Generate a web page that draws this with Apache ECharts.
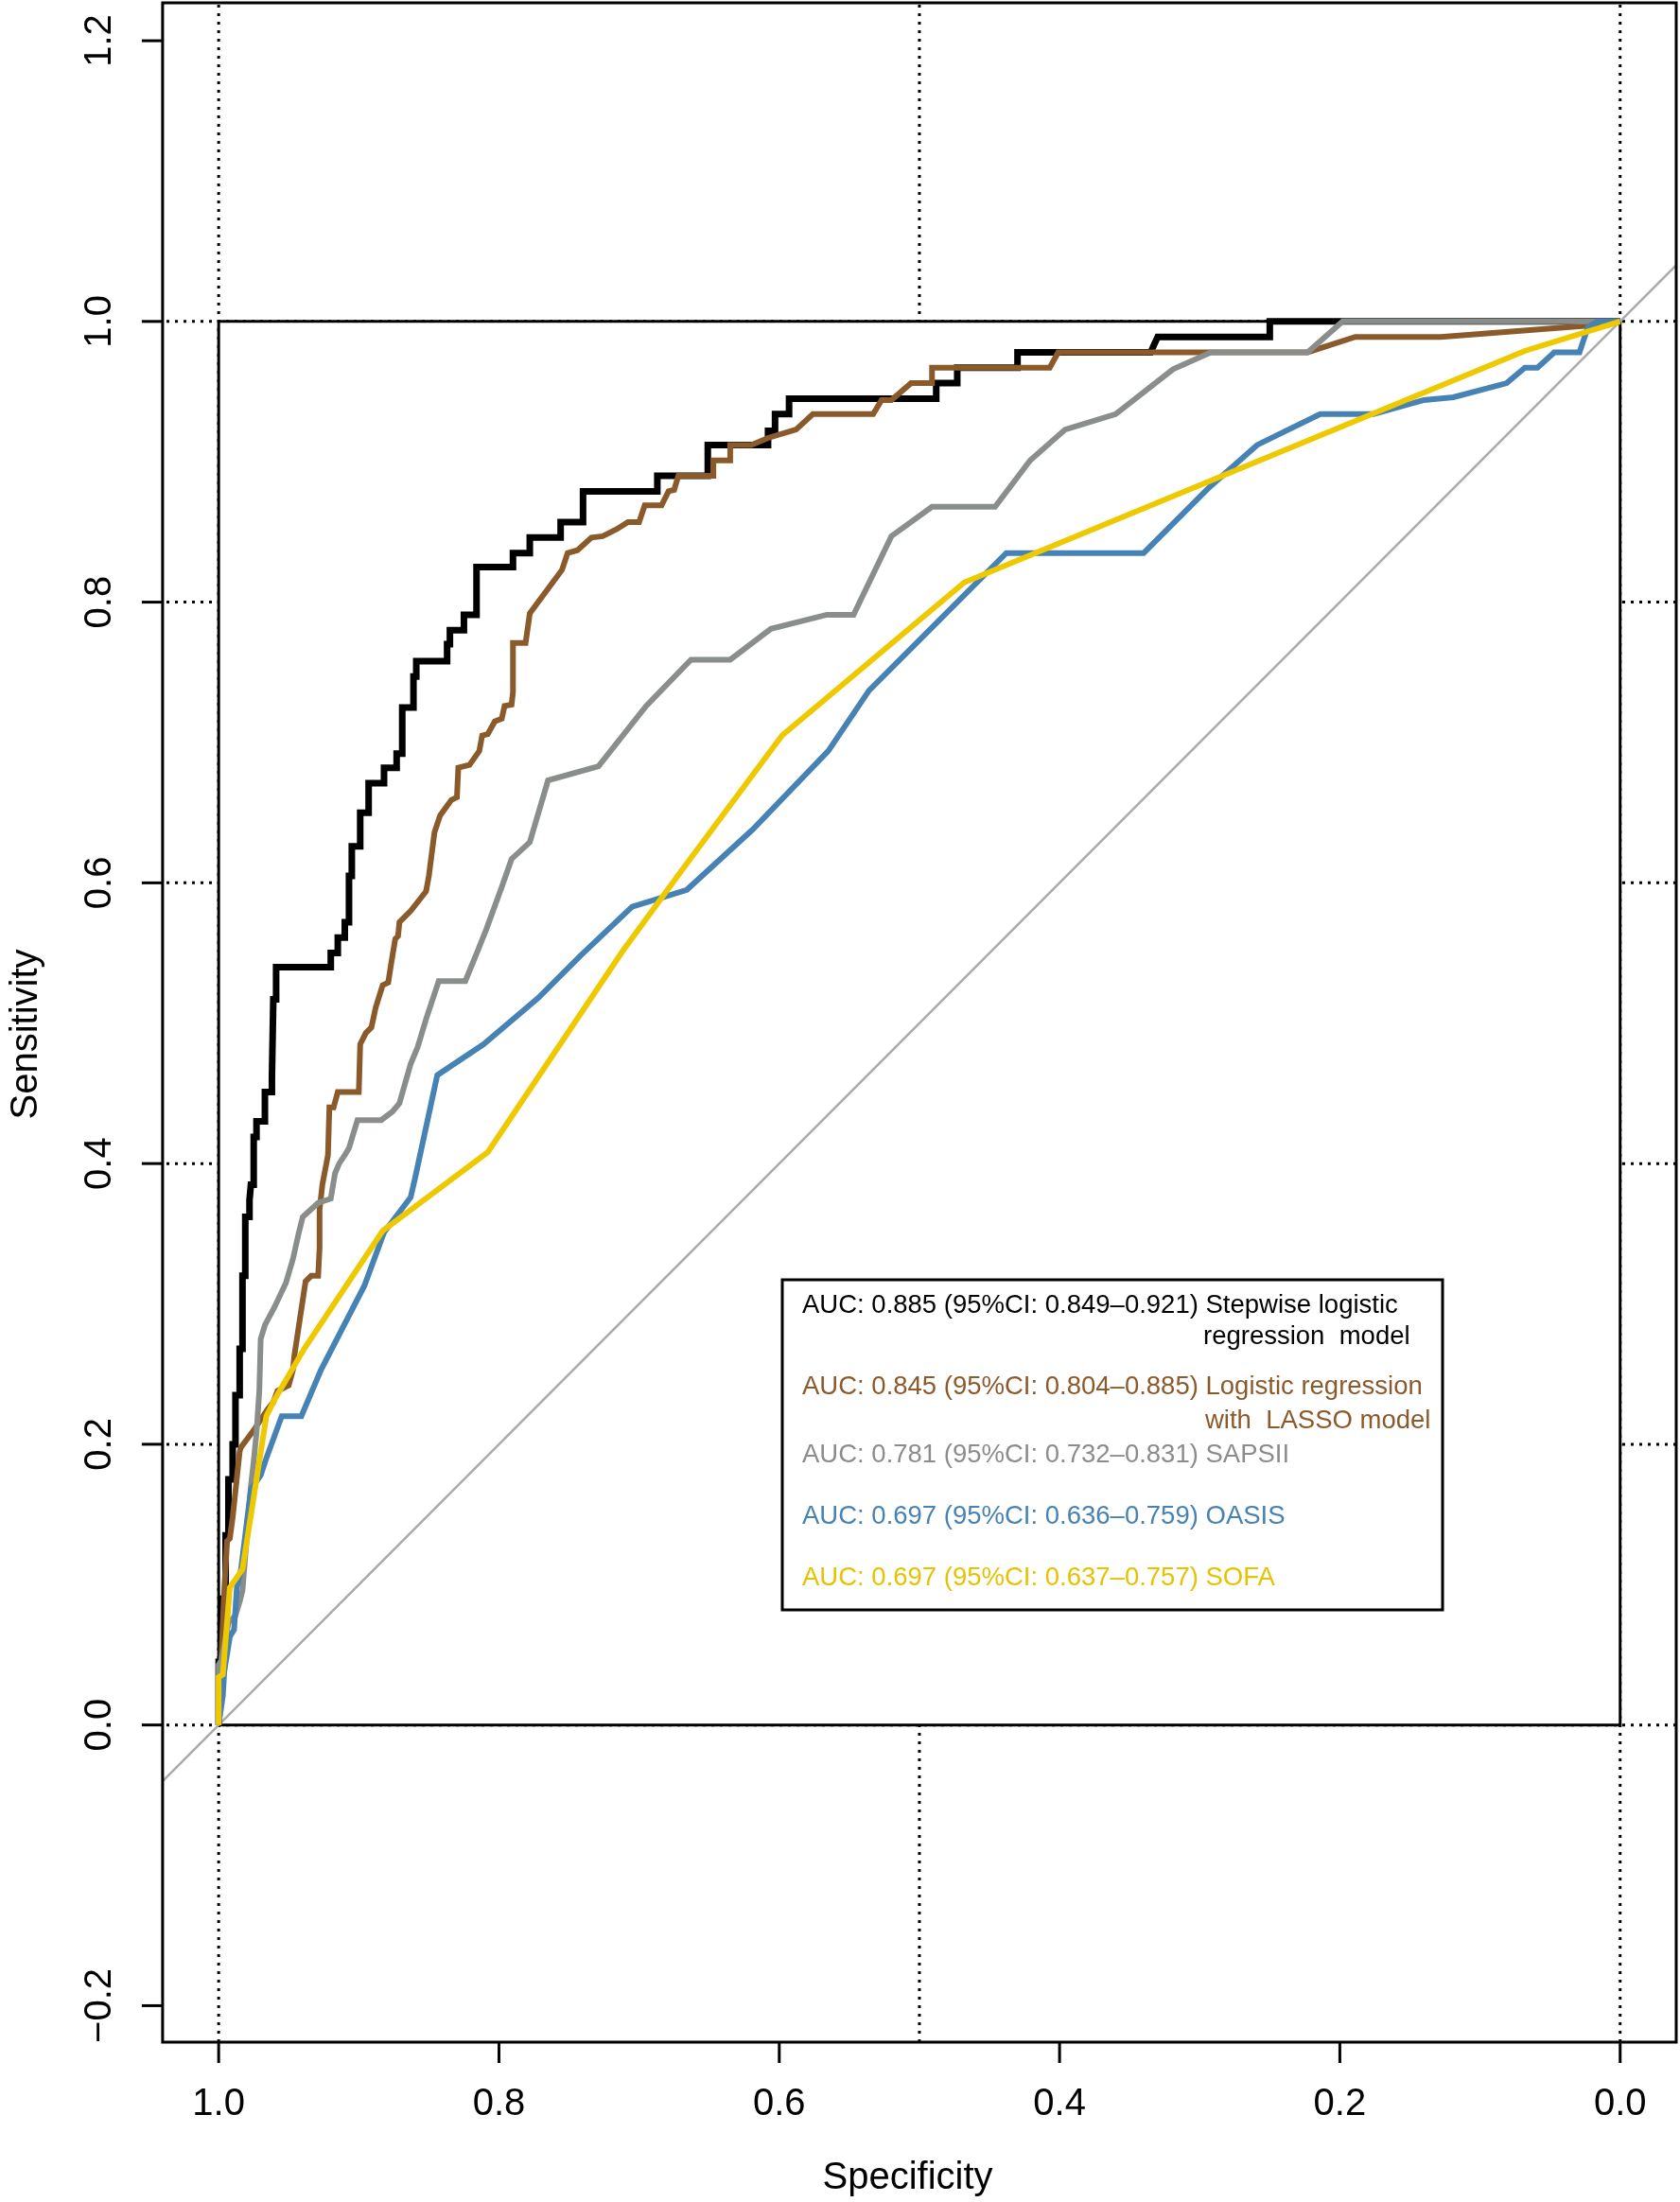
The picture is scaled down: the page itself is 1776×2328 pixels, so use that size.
<!DOCTYPE html>
<html>
<head>
<meta charset="utf-8">
<script src="https://cdn.jsdelivr.net/npm/echarts@6.0.0/dist/echarts.min.js"></script>
<style>
  html, body { margin: 0; padding: 0; background: #fff; }
  #chart { width: 1776px; height: 2328px; }
</style>
</head>
<body>
<div id="chart"></div>
<script>
// axis ticks and reference lines
const xTicks = [1.0, 0.8, 0.6, 0.4, 0.2, 0.0];
const yTicks = [-0.2, 0.0, 0.2, 0.4, 0.6, 0.8, 1.0, 1.2];
const gridX = [1.0, 0.5, 0.0];
const gridY = [0.0, 0.2, 0.4, 0.6, 0.8, 1.0];
const xMin = -0.04, xMax = 1.04;
const yMin = -0.226, yMax = 1.227;

// ROC curves: [specificity, sensitivity]
const stepwise = [[1,0],[1,0.045],[0.998,0.045],[0.998,0.09],[0.995,0.09],[0.995,0.135],[0.993,0.135],[0.993,0.175],[0.99,0.175],[0.99,0.2],[0.988,0.2],[0.988,0.235],[0.985,0.235],[0.985,0.268],[0.983,0.268],[0.983,0.32],[0.981,0.32],[0.981,0.362],[0.978,0.362],[0.978,0.374],[0.977,0.374],[0.977,0.385],[0.975,0.385],[0.975,0.419],[0.973,0.419],[0.973,0.43],[0.967,0.43],[0.967,0.451],[0.962,0.451],[0.962,0.461],[0.961,0.461],[0.961,0.517],[0.959,0.517],[0.959,0.54],[0.92,0.54],[0.92,0.55],[0.915,0.55],[0.915,0.561],[0.91,0.561],[0.91,0.572],[0.907,0.572],[0.907,0.605],[0.905,0.605],[0.905,0.626],[0.899,0.626],[0.899,0.65],[0.893,0.65],[0.893,0.671],[0.882,0.671],[0.882,0.682],[0.873,0.682],[0.873,0.692],[0.869,0.692],[0.869,0.725],[0.861,0.725],[0.861,0.747],[0.859,0.747],[0.859,0.758],[0.837,0.758],[0.837,0.77],[0.835,0.77],[0.835,0.78],[0.825,0.78],[0.825,0.791],[0.816,0.791],[0.816,0.825],[0.79,0.825],[0.79,0.835],[0.778,0.835],[0.778,0.846],[0.756,0.846],[0.756,0.857],[0.74,0.857],[0.74,0.879],[0.687,0.879],[0.687,0.89],[0.651,0.89],[0.651,0.912],[0.608,0.912],[0.608,0.922],[0.603,0.922],[0.603,0.934],[0.593,0.934],[0.593,0.945],[0.488,0.945],[0.488,0.956],[0.473,0.956],[0.473,0.967],[0.43,0.967],[0.43,0.978],[0.335,0.978],[0.33,0.989],[0.25,0.989],[0.25,1],[0,1]];

const lasso = [[1,0],[0.999,0.026],[0.996,0.096],[0.994,0.131],[0.992,0.133],[0.99,0.148],[0.985,0.195],[0.984,0.198],[0.975,0.21],[0.973,0.213],[0.965,0.225],[0.961,0.23],[0.958,0.238],[0.95,0.242],[0.947,0.253],[0.946,0.263],[0.938,0.316],[0.934,0.32],[0.929,0.32],[0.928,0.34],[0.928,0.367],[0.926,0.385],[0.922,0.406],[0.921,0.44],[0.918,0.44],[0.915,0.451],[0.9,0.451],[0.899,0.485],[0.895,0.493],[0.891,0.497],[0.888,0.511],[0.883,0.527],[0.879,0.529],[0.877,0.542],[0.874,0.56],[0.872,0.562],[0.871,0.572],[0.863,0.58],[0.852,0.594],[0.85,0.605],[0.846,0.636],[0.842,0.648],[0.834,0.659],[0.83,0.661],[0.829,0.682],[0.821,0.684],[0.814,0.694],[0.812,0.705],[0.808,0.706],[0.803,0.715],[0.798,0.717],[0.796,0.726],[0.791,0.727],[0.79,0.736],[0.79,0.771],[0.781,0.771],[0.778,0.792],[0.777,0.793],[0.755,0.823],[0.751,0.835],[0.744,0.837],[0.734,0.846],[0.726,0.847],[0.716,0.852],[0.708,0.857],[0.7,0.857],[0.696,0.869],[0.684,0.869],[0.679,0.879],[0.675,0.88],[0.672,0.89],[0.647,0.89],[0.647,0.901],[0.635,0.901],[0.635,0.912],[0.62,0.912],[0.608,0.917],[0.588,0.923],[0.576,0.934],[0.533,0.934],[0.527,0.944],[0.52,0.944],[0.506,0.956],[0.491,0.956],[0.491,0.967],[0.407,0.967],[0.401,0.978],[0.223,0.978],[0.189,0.989],[0.128,0.989],[0.023,0.997],[0,1]];

const sapsii = [[1,0],[1,0.043],[0.998,0.046],[0.993,0.073],[0.988,0.078],[0.985,0.088],[0.983,0.096],[0.977,0.17],[0.975,0.188],[0.973,0.208],[0.971,0.238],[0.97,0.275],[0.967,0.285],[0.96,0.298],[0.952,0.315],[0.947,0.332],[0.943,0.35],[0.94,0.362],[0.929,0.372],[0.92,0.375],[0.917,0.393],[0.914,0.4],[0.91,0.406],[0.907,0.411],[0.901,0.431],[0.884,0.431],[0.876,0.437],[0.871,0.443],[0.863,0.471],[0.858,0.483],[0.852,0.503],[0.843,0.53],[0.824,0.53],[0.815,0.552],[0.809,0.567],[0.798,0.597],[0.791,0.617],[0.778,0.629],[0.765,0.673],[0.729,0.683],[0.695,0.726],[0.663,0.759],[0.635,0.759],[0.606,0.781],[0.566,0.791],[0.547,0.791],[0.52,0.847],[0.491,0.868],[0.446,0.868],[0.421,0.901],[0.396,0.923],[0.36,0.934],[0.319,0.966],[0.292,0.978],[0.223,0.978],[0.198,1],[0,1]];

const oasis = [[1,0],[0.997,0.021],[0.996,0.038],[0.992,0.063],[0.989,0.068],[0.987,0.098],[0.984,0.111],[0.977,0.168],[0.97,0.178],[0.966,0.19],[0.955,0.22],[0.941,0.22],[0.927,0.253],[0.896,0.313],[0.882,0.351],[0.863,0.376],[0.86,0.389],[0.844,0.463],[0.811,0.485],[0.772,0.518],[0.742,0.548],[0.705,0.583],[0.666,0.595],[0.619,0.638],[0.565,0.694],[0.536,0.737],[0.473,0.8],[0.438,0.835],[0.34,0.835],[0.293,0.882],[0.259,0.912],[0.214,0.934],[0.176,0.934],[0.14,0.944],[0.119,0.946],[0.081,0.956],[0.068,0.967],[0.059,0.967],[0.047,0.978],[0.029,0.978],[0.023,0.996],[0.016,1],[0,1]];

const sofa = [[1,0],[1,0.034],[0.997,0.036],[0.992,0.098],[0.983,0.111],[0.973,0.175],[0.966,0.22],[0.96,0.232],[0.939,0.268],[0.883,0.352],[0.808,0.408],[0.712,0.551],[0.668,0.611],[0.598,0.705],[0.468,0.814],[0.068,0.979],[0,1]];

const curveNames = ['Stepwise logistic regression model', 'Logistic regression with LASSO model', 'SAPSII', 'OASIS', 'SOFA'];
const curveData = [stepwise, lasso, sapsii, oasis, sofa];
const curveColors = ['#000000', '#8B5A2B', '#8A8E8B', '#4682B4', '#EEC900'];
const curveWidths = [7, 6, 6, 6, 6];

const legendLines = [
  ['AUC: 0.885 (95%CI: 0.849\u20130.921) Stepwise logistic', 'regression  model'],
  ['AUC: 0.845 (95%CI: 0.804\u20130.885) Logistic regression', 'with  LASSO model'],
  ['AUC: 0.781 (95%CI: 0.732\u20130.831) SAPSII'],
  ['AUC: 0.697 (95%CI: 0.636\u20130.759) OASIS'],
  ['AUC: 0.697 (95%CI: 0.637\u20130.757) SOFA']
];
const legendTextColors = ['#000000', '#8B5A2B', '#8C8C8C', '#4682B4', '#E6C200'];

// layout (pixels)
const frame = { left: 165, top: 3, width: 1607, height: 2158 };
const pad = 25;        // grid reaches past the frame so the outward ticks sit inside it
const tickLen = 22;
const legendBox = { x: 827, y: 1353, w: 698, h: 349 };
const legendRowY = [[1380, 1413], [1466, 1502], [1538], [1603], [1668]];
const legendContX = [1272, 1274];
const legendLeft = 848;

// axis extents including the pad beyond the frame
const xAxisMax = xMax + pad * (xMax - xMin) / frame.width;
const yAxisMin = yMin - pad * (yMax - yMin) / frame.height;

const FONT = '"Liberation Sans", Arial, sans-serif';

const chart = echarts.init(document.getElementById('chart'));

const fmt = v => (v < 0 ? '\u2212' : '') + Math.abs(v).toFixed(1);

const series = [];

// dotted reference grid
gridX.forEach(v => {
  series.push({
    type: 'line', z: 1, silent: true, showSymbol: false,
    data: [[v, yMin], [v, yMax]],
    lineStyle: { color: '#000', width: 3, type: [3, 6] }
  });
});
gridY.forEach(v => {
  series.push({
    type: 'line', z: 1, silent: true, showSymbol: false,
    data: [[xMin, v], [xMax, v]],
    lineStyle: { color: '#000', width: 3, type: [3, 6] }
  });
});

// rectangle between two data corners
const rectItem = (fill, z) => ({
  type: 'custom', z: z, silent: true, clip: false,
  renderItem: (params, api) => {
    const p0 = api.coord([api.value(0), api.value(1)]);
    const p1 = api.coord([api.value(2), api.value(3)]);
    return {
      type: 'rect',
      shape: { x: Math.min(p0[0], p1[0]), y: Math.min(p0[1], p1[1]), width: Math.abs(p1[0] - p0[0]), height: Math.abs(p1[1] - p0[1]) },
      style: { fill: fill, stroke: '#000', lineWidth: 3 }
    };
  }
});

// unit square of the ROC space
series.push(Object.assign(rectItem('#fff', 2), { data: [[1, 0, 0, 1]] }));
// plot frame
series.push(Object.assign(rectItem('none', 6), { data: [[xMax, yMin, xMin, yMax]] }));

// chance diagonal, frame edge to frame edge
series.push({
  type: 'line', z: 3, silent: true, showSymbol: false,
  data: [[xMax, 1 - xMax], [xMin, 1 - xMin]],
  lineStyle: { color: '#AAAAAA', width: 2.5 }
});

curveData.forEach((d, i) => {
  series.push({
    name: curveNames[i],
    type: 'line', z: 4, showSymbol: false, silent: true,
    data: d,
    lineStyle: { color: curveColors[i], width: curveWidths[i], join: 'miter' }
  });
});

// outward tick marks on the bottom and left of the frame
series.push({
  type: 'custom', z: 6, silent: true, clip: false,
  data: xTicks.map(v => [v, yMin]),
  renderItem: (params, api) => {
    const p = api.coord([api.value(0), api.value(1)]);
    return { type: 'line', shape: { x1: p[0], y1: p[1], x2: p[0], y2: p[1] + tickLen }, style: { stroke: '#000', lineWidth: 3 } };
  }
});
series.push({
  type: 'custom', z: 6, silent: true, clip: false,
  data: yTicks.map(v => [xMax, v]),
  renderItem: (params, api) => {
    const p = api.coord([api.value(0), api.value(1)]);
    return { type: 'line', shape: { x1: p[0], y1: p[1], x2: p[0] - tickLen, y2: p[1] }, style: { stroke: '#000', lineWidth: 3 } };
  }
});

// legend box
const graphics = [{
  type: 'rect', z: 100,
  shape: { x: legendBox.x, y: legendBox.y, width: legendBox.w, height: legendBox.h },
  style: { fill: '#fff', stroke: '#000', lineWidth: 3 }
}];
legendLines.forEach((lines, i) => {
  lines.forEach((t, j) => {
    graphics.push({
      type: 'text', z: 101,
      x: j === 0 ? legendLeft : legendContX[i],
      y: legendRowY[i][j],
      style: { text: t, fill: legendTextColors[i], fontSize: 27.5, fontFamily: FONT, verticalAlign: 'middle', align: 'left' }
    });
  });
});

chart.setOption({
  animation: false,
  backgroundColor: '#fff',
  grid: { left: frame.left - pad, top: frame.top, width: frame.width + pad, height: frame.height + pad, show: false },
  xAxis: {
    type: 'value', inverse: true, min: xMin, max: xAxisMax,
    name: 'Specificity', nameLocation: 'middle', nameGap: 124 - pad,
    nameTextStyle: { fontSize: 40, fontFamily: FONT, color: '#000' },
    axisLine: { show: false, onZero: false },
    axisTick: { show: false },
    splitLine: { show: false },
    axisLabel: { customValues: xTicks, formatter: fmt, fontSize: 40, fontFamily: FONT, color: '#000', margin: 46 - pad }
  },
  yAxis: {
    type: 'value', min: yAxisMin, max: yMax,
    name: 'Sensitivity', nameLocation: 'middle', nameGap: 124 - pad,
    nameTextStyle: { fontSize: 40, fontFamily: FONT, color: '#000' },
    axisLine: { show: false, onZero: false },
    axisTick: { show: false },
    splitLine: { show: false },
    axisLabel: { customValues: yTicks, formatter: fmt, rotate: 90, fontSize: 40, fontFamily: FONT, color: '#000', margin: 46 - pad }
  },
  series: series,
  graphic: graphics
});
</script>
</body>
</html>
